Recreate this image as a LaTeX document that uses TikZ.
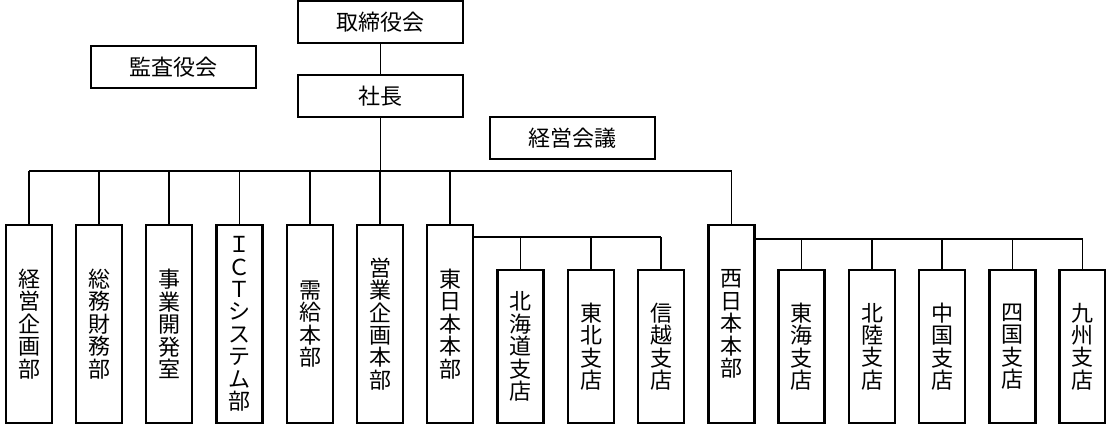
\documentclass[tikz,border=0pt]{standalone}
\usepackage{fontspec}
\newfontfamily\jpfont{Noto Sans CJK JP}
\tikzset{
  topbox/.style={draw,line width=1.7pt,minimum width=123.75pt,minimum height=31.5pt,inner sep=0pt},
  deptbox/.style={draw,line width=1.7pt,minimum width=34.5pt,minimum height=148.5pt,inner sep=0pt,align=center},
  branchbox/.style={deptbox,minimum height=114.75pt},
  link/.style={line width=1.4pt}
}
\begin{document}
\begin{tikzpicture}[x=0.75pt,y=-0.75pt,font=\jpfont\fontsize{16.5}{16.8}\selectfont]
    \useasboundingbox (0,0) rectangle (1106,431);

    \node[topbox] (board) at (380.5,22) {取締役会};
    \node[topbox] (audit) at (173.5,67) {監査役会};
    \node[topbox] (ceo) at (380.5,96) {社長};
    \node[topbox] (mtg) at (572.5,138) {経営会議};

    % departments
    \node[deptbox] (kikaku) at (29,324) {経\\営\\企\\画\\部};
    \node[deptbox] (soumu) at (99,324) {総\\務\\財\\務\\部};
    \node[deptbox] (jigyo) at (169,324) {事\\業\\開\\発\\室};
    \node[deptbox] (ict) at (239.5,324) {Ｉ\\Ｃ\\Ｔ\\シ\\ス\\テ\\ム\\部};
    \node[deptbox] (jukyu) at (310,324) {需\\給\\本\\部};
    \node[deptbox] (eigyo) at (380,324) {営\\業\\企\\画\\本\\部};
    \node[deptbox] (east) at (450,324) {東\\日\\本\\本\\部};
    \node[deptbox] (west) at (731.5,324) {西\\日\\本\\本\\部};

    % branches
    \node[branchbox] (hokkaido) at (520.5,346.5) {北\\海\\道\\支\\店};
    \node[branchbox] (tohoku) at (591,346.5) {東\\北\\支\\店};
    \node[branchbox] (shinetsu) at (661,346.5) {信\\越\\支\\店};
    \node[branchbox] (tokai) at (801.5,346.5) {東\\海\\支\\店};
    \node[branchbox] (hokuriku) at (872,346.5) {北\\陸\\支\\店};
    \node[branchbox] (chugoku) at (942,346.5) {中\\国\\支\\店};
    \node[branchbox] (shikoku) at (1012.5,346.5) {四\\国\\支\\店};
    \node[branchbox] (kyushu) at (1082.5,346.5) {九\\州\\支\\店};

    \draw[link] (board) -- (ceo);
    \draw[link] (ceo) -- (ceo |- 0,171);
    \draw[link] (kikaku.north |- 0,171) -- (west.north |- 0,171);
    \foreach \d in {kikaku,soumu,jigyo,ict,jukyu,eigyo,east,west}
        \draw[link] (\d.north) -- (\d.north |- 0,171);

    \draw[link] (east.east |- 0,237) -- (shinetsu.north |- 0,237);
    \foreach \b in {hokkaido,tohoku,shinetsu}
        \draw[link] (\b.north) -- (\b.north |- 0,237);

    \draw[link] (west.east |- 0,239) -- (kyushu.north |- 0,239);
    \foreach \b in {tokai,hokuriku,chugoku,shikoku,kyushu}
        \draw[link] (\b.north) -- (\b.north |- 0,239);
\end{tikzpicture}
\end{document}
